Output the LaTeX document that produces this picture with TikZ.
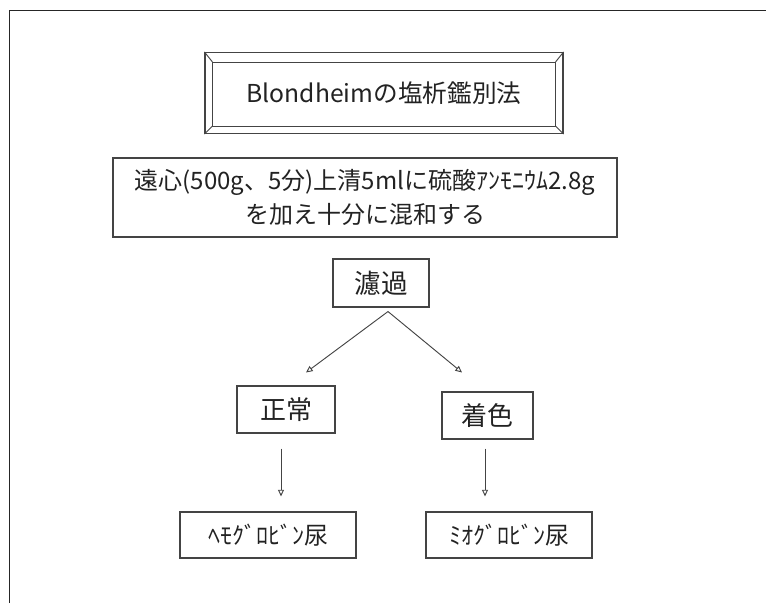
\documentclass[tikz,border=0pt]{standalone}
\usepackage{fontspec}
\setmainfont{Noto Sans CJK JP}
\usetikzlibrary{arrows.meta,calc}
\definecolor{ink}{HTML}{222222}
\definecolor{edge}{HTML}{444444}
\begin{document}
\begin{tikzpicture}[x=0.75pt,y=-0.75pt,
  box/.style={draw=edge, line width=0.8pt, inner sep=0pt, text=ink, align=center},
  arr/.style={draw=edge, line width=0.7pt, -{Triangle[open,length=5pt,width=4.5pt]}}]
\useasboundingbox (0,0) rectangle (766,603);
\draw[line width=1.1pt, draw=black!85] (9.5,603) -- (9.5,10.5) -- (766,10.5);

% title with bevel
\node[box, minimum width=268.5pt, minimum height=60.75pt, font=\fontsize{18.5}{22}\selectfont] (title) at (384,93) {Blondheimの塩析鑑別法};
\coordinate (tnw) at ($(title.north west)+(8,10)$);
\coordinate (tne) at ($(title.north east)+(-8,10)$);
\coordinate (tsw) at ($(title.south west)+(8,-8)$);
\coordinate (tse) at ($(title.south east)+(-8,-8)$);
\draw[draw=edge, line width=0.7pt] (tnw) rectangle (tse);
\draw[draw=edge, line width=0.7pt] (title.north west) -- (tnw) (title.north east) -- (tne) (title.south west) -- (tsw) (title.south east) -- (tse);

% step box
\node[box, minimum width=378pt, minimum height=59.25pt, font=\fontsize{18}{26}\selectfont] (mix) at (365,197.5) {遠心(500g、5分)上清5mlに硫酸ｱﾝﾓﾆｳﾑ2.8g\\を加え十分に混和する};

\node[box, minimum width=72pt, minimum height=36pt, font=\fontsize{20}{24}\selectfont] (roka) at (381,283) {濾過};

\node[box, minimum width=73.5pt, minimum height=35.25pt, font=\fontsize{19.5}{22}\selectfont] (seijo) at (286,409.5) {正常};
\node[box, minimum width=68.25pt, minimum height=35.25pt, font=\fontsize{19.5}{22}\selectfont] (chaku) at (487.5,415.5) {着色};

\node[box, minimum width=132pt, minimum height=34.5pt, font=\fontsize{18}{22}\selectfont] (hemo) at (268,535) {ﾍﾓｸﾞﾛﾋﾞﾝ尿};
\node[box, minimum width=124.5pt, minimum height=34.5pt, font=\fontsize{18}{22}\selectfont] (mio) at (509,535) {ﾐｵｸﾞﾛﾋﾞﾝ尿};

\coordinate (split) at ($(roka.south)+(7,4)$);
\coordinate (lt) at ($(seijo.north)+(20,-13)$);
\coordinate (rt) at ($(chaku.north)+(-25.5,-19)$);
\draw[arr] (split) -- (lt);
\draw[arr] (split) -- (rt);

\coordinate (ls) at ($(seijo.south)+(-5,15)$);
\coordinate (le) at ($(hemo.north)+(13,-15)$);
\coordinate (rs) at ($(chaku.south)+(-2.5,9)$);
\coordinate (re) at ($(mio.north)+(-24,-15)$);
\draw[arr] (ls) -- (le);
\draw[arr] (rs) -- (re);
\end{tikzpicture}
\end{document}
